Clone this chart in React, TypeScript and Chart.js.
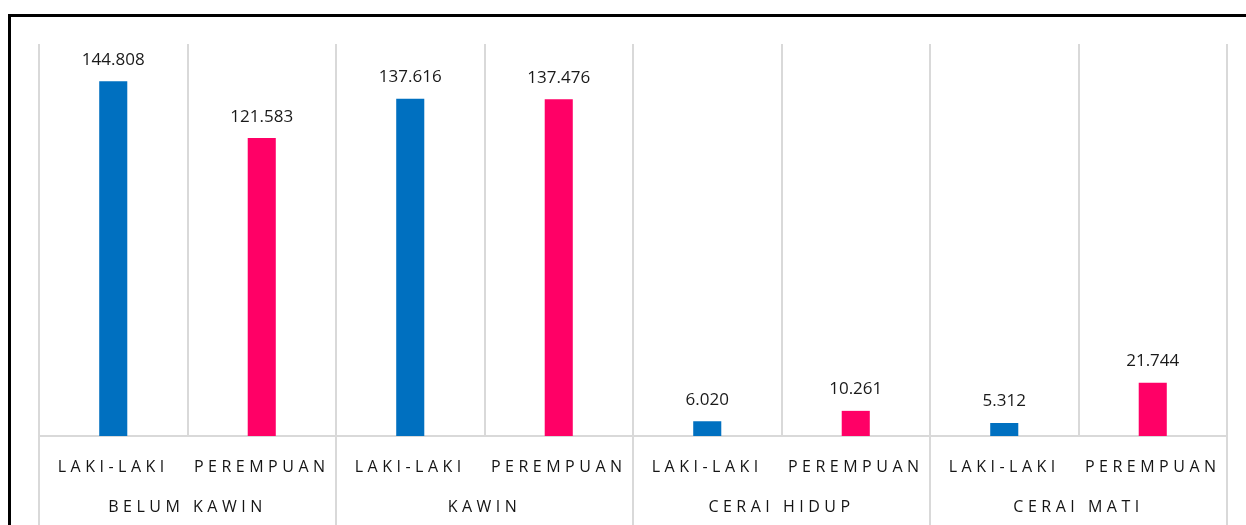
import React, { useEffect, useRef } from "react";
import { Chart, registerables } from "chart.js";

Chart.register(...registerables);

const categories = ["LAKI-LAKI", "PEREMPUAN", "LAKI-LAKI", "PEREMPUAN", "LAKI-LAKI", "PEREMPUAN", "LAKI-LAKI", "PEREMPUAN"];
const groups = ["BELUM KAWIN", "KAWIN", "CERAI HIDUP", "CERAI MATI"];
const values = [144808, 121583, 137616, 137476, 6020, 10261, 5312, 21744];
const barColors = ["#0070C0", "#FF0066", "#0070C0", "#FF0066", "#0070C0", "#FF0066", "#0070C0", "#FF0066"];
const yMax = 160000;

const FONT = "'Open Sans', 'Noto Sans', sans-serif";
const GRID = "#D9D9D9";

const fmt = (v: number) => String(v).replace(/\B(?=(\d{3})+(?!\d))/g, ".");

const spacingPlugin = {
  id: "spacing",
  beforeDraw(chart: any) {
    (chart.ctx as any).letterSpacing = "4.5px";
  },
  beforeDatasetsDraw(chart: any) {
    (chart.ctx as any).letterSpacing = "0px";
  },
};

const groupLinesPlugin = {
  id: "groupLines",
  afterDraw(chart: any) {
    const xs = chart.scales.x;
    const ctx = chart.ctx;
    const n = categories.length;
    const w = (xs.right - xs.left) / n;
    ctx.save();
    ctx.strokeStyle = GRID;
    ctx.lineWidth = 2;
    for (let i = 0; i <= n; i += 2) {
      const x = Math.round(xs.left + i * w);
      ctx.beginPath();
      ctx.moveTo(x, chart.chartArea.bottom);
      ctx.lineTo(x, chart.height);
      ctx.stroke();
    }
    ctx.restore();
  },
};

const labelsPlugin = {
  id: "valueLabels",
  afterDatasetsDraw(chart: any) {
    const ctx = chart.ctx;
    const meta = chart.getDatasetMeta(0);
    ctx.save();
    (ctx as any).letterSpacing = "0px";
    ctx.font = `17px ${FONT}`;
    ctx.fillStyle = "#1A1A1A";
    ctx.textAlign = "center";
    ctx.textBaseline = "alphabetic";
    meta.data.forEach((bar: any, i: number) => {
      ctx.fillText(fmt(values[i]), bar.x, bar.y - 16.5);
    });
    ctx.restore();
  },
};

export default function App() {
  const ref = useRef<HTMLCanvasElement | null>(null);

  useEffect(() => {
    const style = document.createElement("style");
    style.textContent = "html,body{overflow:hidden;}";
    document.head.appendChild(style);
    const chart = new Chart(ref.current!, {
      type: "bar",
      data: {
        labels: categories,
        datasets: [
          {
            data: values,
            backgroundColor: barColors,
            categoryPercentage: 1,
            barPercentage: 0.189,
          },
        ],
      },
      options: {
        responsive: false,
        animation: false,
        layout: { padding: { left: 39, right: 19, top: 44, bottom: 9 } },
        plugins: { legend: { display: false }, tooltip: { enabled: false } },
        scales: {
          y: { display: false, min: 0, max: yMax },
          x: {
            type: "category",
            position: "bottom",
            weight: 0,
            offset: true,
            grid: { offset: true, color: GRID, lineWidth: 2, drawTicks: false },
            border: { display: true, color: GRID, width: 2 },
            ticks: {
              font: { family: FONT, size: 16, lineHeight: 1.2 },
              color: "#151515",
              padding: 22.1,
              maxRotation: 0,
              autoSkip: false,
            },
          },
          x2: {
            type: "category",
            position: "bottom",
            weight: 1,
            labels: groups,
            offset: true,
            grid: { display: false, drawTicks: false },
            border: { display: false },
            ticks: {
              font: { family: FONT, size: 16, lineHeight: 1.2 },
              color: "#151515",
              padding: -1.3,
              maxRotation: 0,
              autoSkip: false,
            },
          },
        },
      },
      plugins: [spacingPlugin, groupLinesPlugin, labelsPlugin],
    });
    return () => {
      chart.destroy();
      style.remove();
    };
  }, []);

  return (
    <div style={{ position: "absolute", left: 0, top: 0, width: 1246, height: 525 }}>
      <div
        style={{
          position: "absolute",
          left: 8,
          top: 14,
          width: 1400,
          height: 700,
          border: "3px solid #000",
          boxSizing: "border-box",
        }}
      />
      <canvas ref={ref} width={1246} height={525} style={{ position: "absolute", left: 0, top: 0 }} />
    </div>
  );
}
